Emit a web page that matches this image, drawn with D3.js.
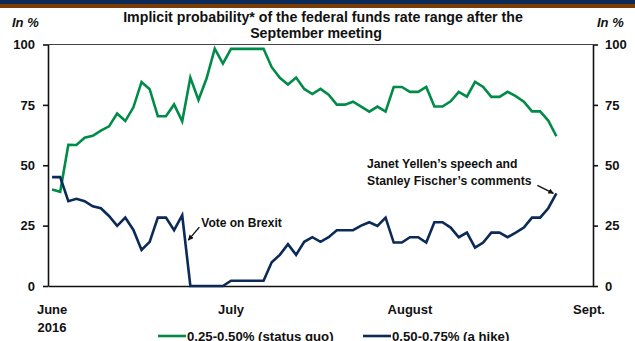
<!doctype html>
<html>
<head>
<meta charset="utf-8">
<script src="https://d3js.org/d3.v7.min.js"></script>
<style>
  body { margin: 0; background: #fff; }
  svg text { font-family: "Liberation Sans", Arial, sans-serif; font-weight: bold; fill: #111; }
</style>
</head>
<body>
<svg width="635" height="341"></svg>
<script>
// trading days from June 1, 2016 (one value per day)
var statusQuo = [40, 39, 58.5, 58.4, 61.4, 62.2, 64.3, 66.1, 71.4, 68.3, 74, 84.5, 81.5, 70.3, 70.3, 75.2,
    68.2, 86.3, 77, 86, 98.3, 92.1, 98.2, 98.2, 98.2, 98.2, 98.2, 90.6, 86.2, 83.4, 86.3, 81.6, 79.5,
    81.6, 79.2, 75.1, 75.1, 76.3, 74.3, 72.2, 74.3, 72.2, 82.4, 82.4, 80.4, 80.4, 82.4, 74.3, 74.3,
    76.5, 80.4, 78.4, 84.5, 82.4, 78.3, 78.3, 80.4, 78.6, 76.3, 72.3, 72.3, 68.5, 62];
var hike = [45.1, 45.1, 35.1, 36.1, 35.1, 33, 32.2, 29, 24.9, 28.3, 23.2, 14.9, 18.3, 28.3, 28.3, 23.1,
    29.3, 0, 0, 0, 0, 0, 2.2, 2.2, 2.2, 2.2, 2.2, 9.8, 12.9, 17.3, 12.9, 18.3, 20.2, 18.3, 20.2, 23.1,
    23.1, 23.1, 25, 26.4, 24.9, 28.3, 18, 18, 20.2, 20.2, 18, 26.4, 26.4, 24.2, 20.2, 22.1, 15.9, 18,
    22.1, 22.1, 20.2, 22.1, 24.2, 28.3, 28.3, 32.2, 38.4];
var nDays = 67;                       // axis runs to early September
var monthLabels = ["June", "July", "August", "Sept."];
var monthIndex = [0, 22, 44, 66];
var yTicks = [0, 25, 50, 75, 100];
var seriesNames = ["0.25-0.50% (status quo)", "0.50-0.75% (a hike)"];
var colors = ["#008c48", "#0b2a57"];

var svg = d3.select("svg");

// slide header remnants
svg.append("rect").attr("x", 0).attr("y", 0).attr("width", 635).attr("height", 4).attr("fill", "#0b2a57");
svg.append("rect").attr("x", 0).attr("y", 4).attr("width", 635).attr("height", 4).attr("fill", "#7a3d05");

var pLeft = 48, pRight = 593, pTop = 44.5, pBottom = 286;

var x = d3.scaleBand().domain(d3.range(nDays)).range([pLeft, pRight]);
var y = d3.scaleLinear().domain([0, 100]).range([pBottom, pTop]);
var cx = function(i) { return x(i) + x.bandwidth() / 2; };

// title
svg.append("text").attr("x", 323).attr("y", 22).attr("text-anchor", "middle").attr("font-size", "14.2px")
   .text("Implicit probability* of the federal funds rate range after the");
svg.append("text").attr("x", 316).attr("y", 38).attr("text-anchor", "middle").attr("font-size", "14.2px")
   .text("September meeting");
svg.append("text").attr("x", 12).attr("y", 27).attr("font-size", "13px").attr("font-style", "italic").text("In %");
svg.append("text").attr("x", 597).attr("y", 27).attr("font-size", "13px").attr("font-style", "italic").text("In %");

// frame top
svg.append("line").attr("x1", pLeft).attr("x2", pRight).attr("y1", pTop).attr("y2", pTop)
   .attr("stroke", "#444").attr("stroke-width", 1);

var gl = svg.append("g").attr("transform", "translate(" + pLeft + ",0)")
    .call(d3.axisLeft(y).tickValues(yTicks).tickSize(5).tickSizeOuter(0).tickPadding(8));
var gr = svg.append("g").attr("transform", "translate(" + pRight + ",0)")
    .call(d3.axisRight(y).tickValues(yTicks).tickSize(5).tickSizeOuter(0).tickPadding(7));
var gb = svg.append("g").attr("transform", "translate(0," + pBottom + ")")
    .call(d3.axisBottom(x).tickValues(monthIndex).tickSize(0).tickSizeOuter(0).tickPadding(19)
        .tickFormat(function(d) { return monthLabels[monthIndex.indexOf(d)]; }));

[gl, gr, gb].forEach(function(g) {
    g.selectAll("path, line").attr("stroke", "#111").attr("stroke-width", 1.6);
    g.selectAll("text").attr("font-size", "13px").attr("fill", "#111")
     .style("font-family", "'Liberation Sans', Arial, sans-serif").style("font-weight", "bold");
});

svg.append("text").attr("x", cx(0)).attr("y", 332).attr("text-anchor", "middle").attr("font-size", "13px").text("2016");

// lines
var line = d3.line().x(function(d, i) { return cx(i); }).y(function(d) { return y(d); });
[statusQuo, hike].forEach(function(s, k) {
    svg.append("path").datum(s).attr("d", line).attr("fill", "none")
       .attr("stroke", colors[k]).attr("stroke-width", 2.6).attr("stroke-linejoin", "miter");
});

// annotations
svg.append("defs").append("marker").attr("id", "ah").attr("viewBox", "0 0 10 10")
   .attr("refX", 9).attr("refY", 5).attr("markerWidth", 4).attr("markerHeight", 4).attr("orient", "auto")
   .append("path").attr("d", "M0,0L10,5L0,10z").attr("fill", "#111");

var bx = cx(17), by = y(19);
svg.append("line").attr("x1", bx + 9).attr("y1", by - 13).attr("x2", bx - 2).attr("y2", by)
   .attr("stroke", "#111").attr("stroke-width", 1.4).attr("marker-end", "url(#ah)");
svg.append("text").attr("x", bx + 11).attr("y", by - 13).attr("font-size", "12px").text("Vote on Brexit");

var jx = cx(62), jy = y(hike[62]);
svg.append("line").attr("x1", jx - 19).attr("y1", jy - 8).attr("x2", jx - 3).attr("y2", jy)
   .attr("stroke", "#111").attr("stroke-width", 1.4).attr("marker-end", "url(#ah)");
svg.append("text").attr("x", 367).attr("y", 168).attr("font-size", "12.2px").text("Janet Yellen\u2019s speech and");
svg.append("text").attr("x", 367).attr("y", 185).attr("font-size", "12.2px").text("Stanley Fischer\u2019s comments");

// legend
var legX = [158, 363];
seriesNames.forEach(function(n, k) {
    svg.append("line").attr("x1", legX[k]).attr("x2", legX[k] + 28).attr("y1", 336).attr("y2", 336)
       .attr("stroke", colors[k]).attr("stroke-width", 2.6);
    svg.append("text").attr("x", legX[k] + 29).attr("y", 341).attr("font-size", "13.2px").text(n);
});
</script>
</body>
</html>
